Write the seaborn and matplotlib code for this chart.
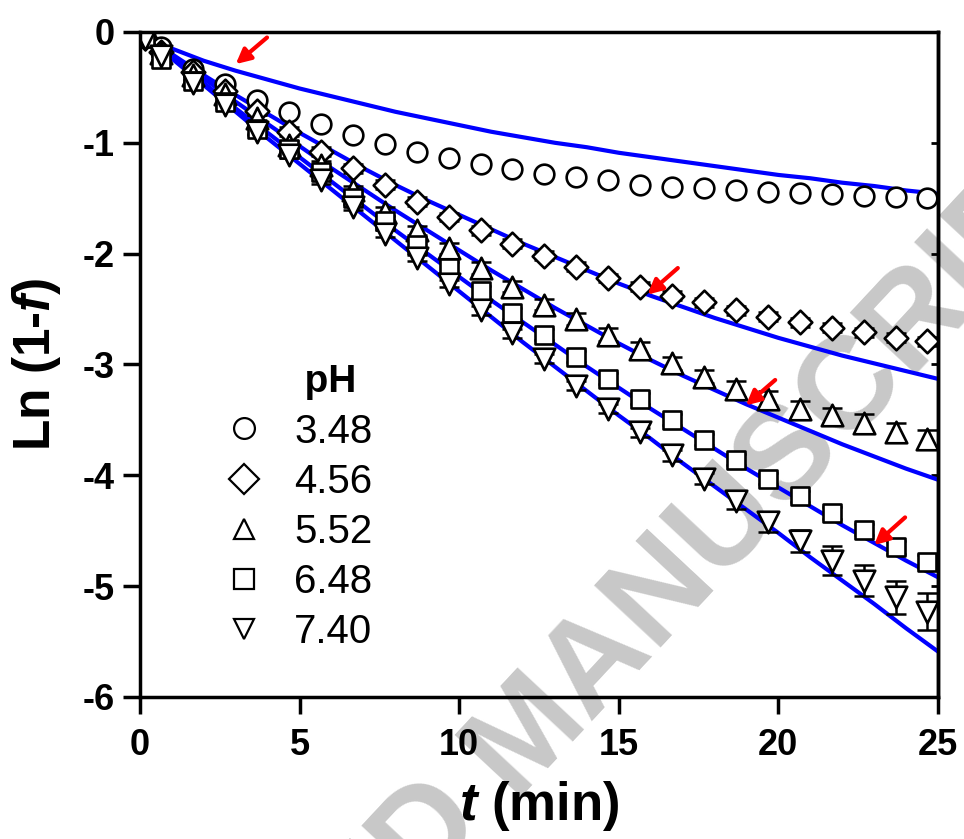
import matplotlib
matplotlib.use('Agg')
import pandas as pd
import matplotlib.pyplot as plt
import seaborn as sns
from matplotlib.lines import Line2D

# measured points (t in min)
t_obs = [0.17, 0.67, 1.67, 2.67, 3.67, 4.67, 5.67, 6.67, 7.67, 8.67, 9.67, 10.67, 11.67,
         12.67, 13.67, 14.67, 15.67, 16.67, 17.67, 18.67, 19.67, 20.67, 21.67, 22.67, 23.67, 24.67]

ph_labels = ['3.48', '4.56', '5.52', '6.48', '7.40']

y_348 = [-0.04, -0.14, -0.33, -0.47, -0.61, -0.72, -0.83, -0.93, -1.01, -1.08, -1.14, -1.19, -1.24,
         -1.28, -1.31, -1.34, -1.38, -1.40, -1.41, -1.43, -1.44, -1.45, -1.46, -1.48, -1.49, -1.50]
y_456 = [-0.05, -0.18, -0.36, -0.53, -0.71, -0.90, -1.08, -1.23, -1.38, -1.53, -1.67, -1.79, -1.91,
         -2.02, -2.12, -2.22, -2.30, -2.38, -2.44, -2.51, -2.57, -2.62, -2.67, -2.71, -2.76, -2.79]
y_552 = [-0.04, -0.19, -0.39, -0.56, -0.78, -1.02, -1.20, -1.43, -1.62, -1.79, -1.95, -2.13, -2.30,
         -2.46, -2.59, -2.73, -2.86, -2.99, -3.11, -3.22, -3.31, -3.40, -3.46, -3.53, -3.61, -3.67]
y_648 = [-0.05, -0.24, -0.44, -0.63, -0.88, -1.06, -1.26, -1.50, -1.71, -1.92, -2.13, -2.34, -2.54,
         -2.73, -2.93, -3.13, -3.31, -3.50, -3.68, -3.86, -4.03, -4.19, -4.34, -4.49, -4.65, -4.78]
y_740 = [-0.06, -0.22, -0.46, -0.66, -0.90, -1.11, -1.34, -1.58, -1.82, -2.04, -2.27, -2.51, -2.72,
         -2.95, -3.19, -3.40, -3.61, -3.82, -4.03, -4.23, -4.42, -4.59, -4.77, -4.95, -5.10, -5.23]

e_348 = [0.02] * 26
e_456 = [0.04] * 26
e_552 = [0.03, 0.03, 0.03, 0.03, 0.03, 0.04, 0.04, 0.04, 0.04, 0.04, 0.05, 0.05, 0.05,
         0.05, 0.05, 0.06, 0.06, 0.06, 0.06, 0.07, 0.07, 0.07, 0.07, 0.08, 0.08, 0.08]
e_648 = [0.03, 0.03, 0.04, 0.04, 0.04, 0.04, 0.04, 0.05, 0.05, 0.05, 0.05, 0.05, 0.05,
         0.05, 0.05, 0.05, 0.05, 0.05, 0.05, 0.05, 0.05, 0.05, 0.05, 0.05, 0.06, 0.06]
e_740 = [0.03, 0.03, 0.03, 0.03, 0.03, 0.03, 0.03, 0.03, 0.03, 0.03, 0.03, 0.04, 0.04,
         0.04, 0.04, 0.04, 0.04, 0.05, 0.05, 0.07, 0.09, 0.10, 0.13, 0.14, 0.15, 0.17]

# fitted model curves
t_fit = [0, 1, 2, 3, 4, 5, 6, 7, 8, 9, 10, 11, 12, 13, 14, 15, 16, 17, 18, 19, 20, 21, 22, 23, 24, 25]
f_348 = [0, -0.15, -0.26, -0.35, -0.43, -0.51, -0.58, -0.65, -0.72, -0.78, -0.84, -0.90, -0.95,
         -1.00, -1.04, -1.09, -1.13, -1.17, -1.21, -1.25, -1.29, -1.32, -1.36, -1.39, -1.43, -1.46]
f_456 = [0, -0.20, -0.39, -0.57, -0.74, -0.91, -1.07, -1.23, -1.38, -1.52, -1.65, -1.78, -1.91,
         -2.03, -2.15, -2.27, -2.38, -2.48, -2.58, -2.67, -2.76, -2.84, -2.92, -2.99, -3.06, -3.13]
f_552 = [0, -0.21, -0.42, -0.63, -0.83, -1.03, -1.23, -1.42, -1.61, -1.79, -1.97, -2.15, -2.32,
         -2.49, -2.65, -2.81, -2.96, -3.10, -3.23, -3.36, -3.48, -3.60, -3.72, -3.83, -3.94, -4.04]
f_648 = [0, -0.23, -0.46, -0.69, -0.91, -1.13, -1.35, -1.57, -1.79, -2.00, -2.21, -2.42, -2.62,
         -2.82, -3.02, -3.21, -3.40, -3.58, -3.76, -3.94, -4.11, -4.28, -4.45, -4.61, -4.77, -4.92]
f_740 = [0, -0.24, -0.48, -0.72, -0.96, -1.19, -1.42, -1.65, -1.88, -2.11, -2.34, -2.57, -2.80,
         -3.02, -3.24, -3.46, -3.67, -3.89, -4.10, -4.31, -4.52, -4.74, -4.95, -5.16, -5.38, -5.59]

obs = [y_348, y_456, y_552, y_648, y_740]
errs = [e_348, e_456, e_552, e_648, e_740]
fits = [f_348, f_456, f_552, f_648, f_740]
markers = ['o', 'D', '^', 's', 'v']
msizes = [200, 145, 240, 155, 240]

# arrows pointing where the model starts to deviate (head, tail)
arrows = [((3.0, -0.29), (3.98, -0.05)),
          ((15.9, -2.37), (16.85, -2.13)),
          ((18.98, -3.37), (19.9, -3.14)),
          ((23.0, -4.63), (23.97, -4.38))]

sns.set_style('ticks')
plt.rcParams['font.family'] = ['Liberation Sans', 'DejaVu Sans']
plt.rcParams['mathtext.fontset'] = 'custom'
plt.rcParams['mathtext.it'] = 'Liberation Sans:bold:italic'
plt.rcParams['mathtext.rm'] = 'Liberation Sans:bold'
for key in ['text.color', 'axes.labelcolor', 'xtick.color', 'ytick.color', 'axes.edgecolor']:
    plt.rcParams[key] = 'black'

fig = plt.figure(figsize=(9.64, 8.39), dpi=100)
ax = fig.add_axes([0.1452, 0.1693, 0.8278, 0.7926])
ax.set_facecolor('none')

# watermark behind everything
wm = dict(rotation=47, rotation_mode='anchor', va='center', fontsize=95,
          fontweight='bold', color='#c8c8c8', zorder=-5)
fig.text(0.505, 0.078, 'MANUSCRIPT', ha='left', **wm)
fig.text(0.505, 0.078, 'ACCEPTED ', ha='right', **wm)

for f in fits:
    sns.lineplot(x=t_fit, y=f, color='#0000ff', linewidth=3.0, ax=ax, zorder=2)

for y, e, m, s in zip(obs, errs, markers, msizes):
    ax.errorbar(t_obs, y, yerr=e, fmt='none', ecolor='black', elinewidth=1.8,
                capsize=7.5, capthick=1.8, zorder=3)
    sns.scatterplot(x=t_obs, y=y, marker=m, s=s, color='white', edgecolor='black',
                    linewidth=1.9, ax=ax, zorder=4)

for head, tail in arrows:
    ax.annotate('', xy=head, xytext=tail,
                arrowprops=dict(arrowstyle='-|>', color='red', lw=3, mutation_scale=22,
                                shrinkA=0, shrinkB=0), zorder=5)

ax.set_xlim(0, 25)
ax.set_ylim(-6, 0)
ax.set_xticks([0, 5, 10, 15, 20, 25])
ax.set_yticks([0, -1, -2, -3, -4, -5, -6])
ax.set_yticklabels(['0', '-1', '-2', '-3', '-4', '-5', '-6'])
ax.tick_params(axis='both', direction='out', length=12, width=2.5, labelsize=26)
ax.tick_params(axis='x', pad=10)
ax.tick_params(axis='y', pad=6)
for lab in ax.get_xticklabels() + ax.get_yticklabels():
    lab.set_fontweight('bold')

for sp in ax.spines.values():
    sp.set_visible(True)
    sp.set_linewidth(2.5)
    sp.set_zorder(6)

sec = ax.secondary_yaxis('right')
sec.set_yticks([0, -1, -2, -3, -4, -5, -6])
sec.tick_params(direction='in', length=5, width=2, labelright=False)
sec.spines['right'].set_linewidth(2.5)

ax.set_xlabel(r'$\mathit{t}$ (min)', fontsize=38, fontweight='bold', labelpad=12)
ax.set_ylabel(r'Ln (1-$\mathit{f}$)', fontsize=37, fontweight='bold', labelpad=14)

handles = [Line2D([], [], marker=m, ls='none', mfc='white', mec='black', ms=15, mew=1.6)
           for m in markers]
leg = ax.legend(handles, ph_labels, title='      pH', loc='upper left', bbox_to_anchor=(0.105, 0.50),
                frameon=False, fontsize=29, title_fontproperties={'weight': 'bold', 'size': 28},
                handlelength=1.0, handletextpad=0.75, labelspacing=0.3, borderpad=0,
                borderaxespad=0)

fig.savefig('out.png', dpi=100)
